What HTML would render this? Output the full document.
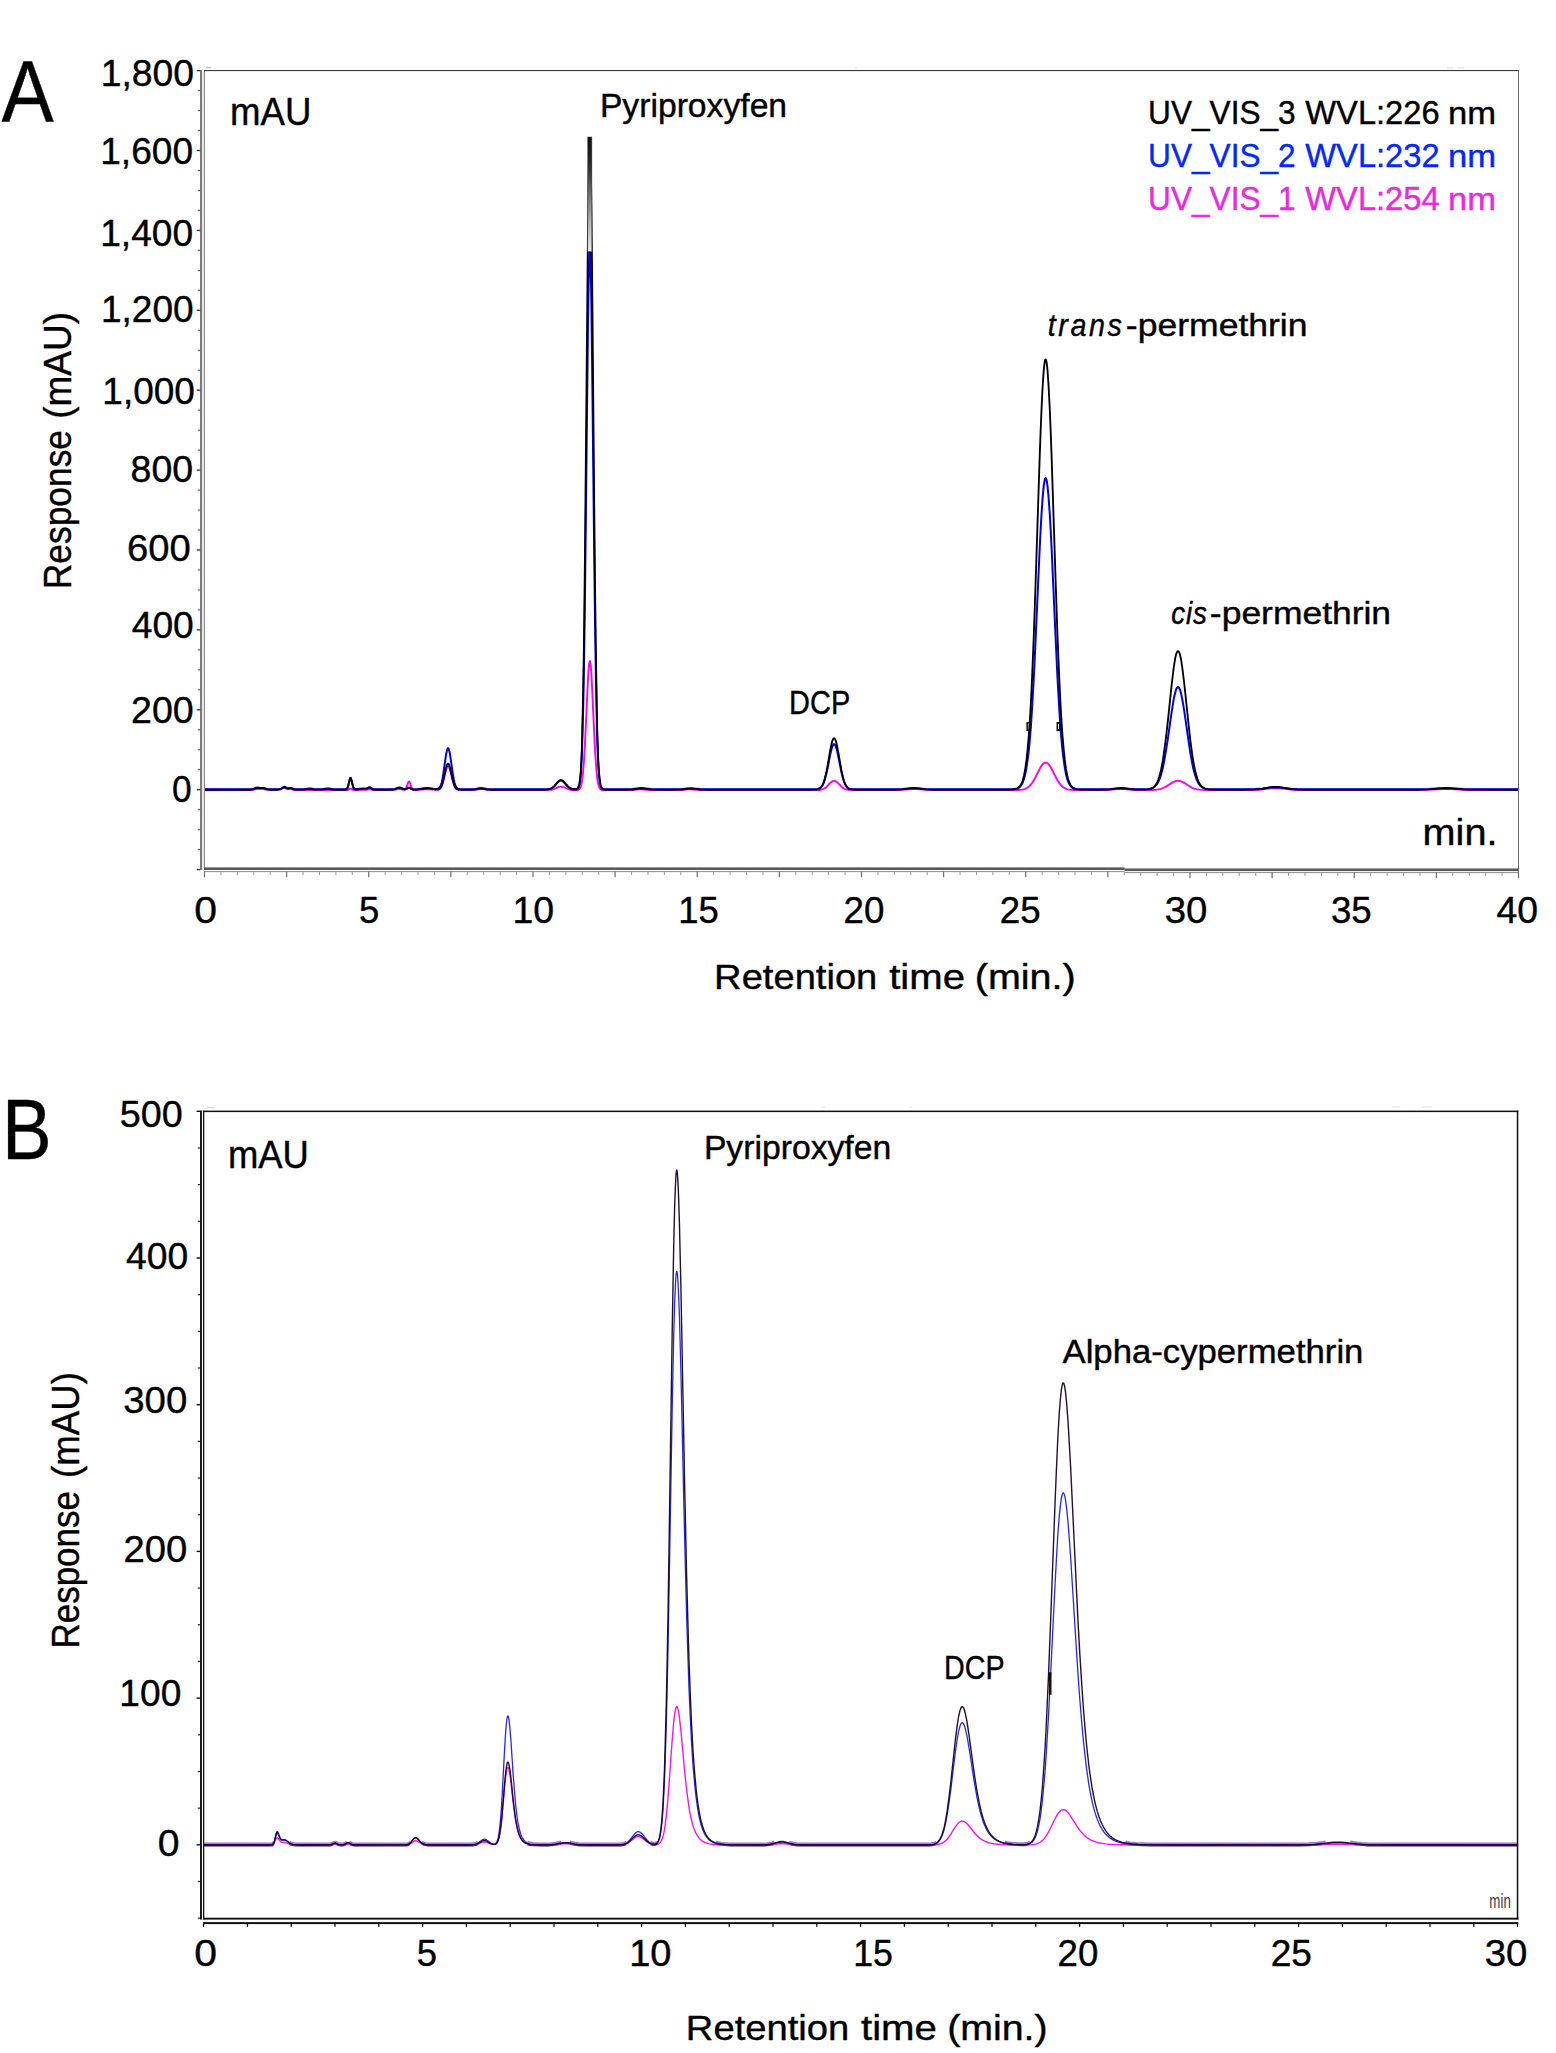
<!DOCTYPE html>
<html lang="en"><head><meta charset="utf-8"><title>HPLC chromatograms</title>
<style>html,body{margin:0;padding:0;background:#fff}svg{display:block}text{font-family:'Liberation Sans', sans-serif;fill:#000;stroke:#000;stroke-width:.4px}</style>
</head><body>
<svg width="1556" height="2053" viewBox="0 0 1556 2053">
<rect width="1556" height="2053" fill="#fff"/>
<g id="traces">
<path d="M204.8,790.2 250.5,790.1 252.8,789.9 256.0,789.0 257.5,788.9 260.2,789.1 263.2,789.1 267.8,789.9 270.8,790.0 274.2,789.8 279.2,789.0 280.8,788.7 283.0,788.0 284.0,787.9 285.0,788.0 286.8,788.8 287.8,789.0 290.8,789.1 294.2,790.0 296.8,790.1 303.8,790.1 309.5,789.8 316.8,790.1 322.2,790.1 327.8,789.8 334.0,790.1 346.0,790.1 347.0,790.0 347.8,789.9 349.8,788.7 350.5,788.6 351.2,788.7 353.2,789.8 354.0,790.0 355.0,790.1 362.5,789.8 366.2,789.7 369.5,789.2 370.5,789.3 372.8,790.0 374.2,790.1 392.0,790.1 394.5,789.9 398.0,789.1 399.2,789.0 400.5,789.1 403.2,789.7 404.2,789.8 404.8,789.7 405.2,789.4 406.0,788.4 406.8,786.7 408.2,782.2 408.8,781.5 409.0,781.4 409.2,781.5 409.8,782.2 411.2,786.7 412.0,788.5 412.8,789.5 413.5,789.9 414.8,790.1 417.2,790.0 424.8,789.4 427.2,789.4 429.8,789.4 435.2,789.9 437.5,789.9 438.2,789.8 439.0,789.5 440.0,788.8 441.0,787.6 441.8,786.1 442.5,784.1 443.2,781.6 446.2,769.4 446.8,767.9 447.2,766.9 447.8,766.3 448.0,766.2 448.2,766.2 448.8,766.7 449.2,767.7 449.8,769.1 450.5,771.8 452.8,781.2 453.8,784.5 454.5,786.4 455.2,787.7 456.2,788.9 457.2,789.6 458.5,789.9 461.5,790.1 473.0,790.1 475.5,789.9 479.2,789.1 481.0,789.0 482.8,789.1 487.2,789.9 490.5,790.1 547.5,790.1 550.2,789.9 552.5,789.5 554.5,788.8 558.8,786.9 560.0,786.6 561.0,786.6 562.0,786.7 563.2,787.0 567.8,789.0 569.0,789.4 570.5,789.7 572.5,790.0 574.8,790.1 576.8,790.1 578.0,789.8 579.0,789.3 579.5,788.9 580.0,788.2 580.8,786.5 581.2,784.8 581.8,782.5 582.2,779.4 583.2,770.3 584.0,760.5 585.0,743.1 588.0,678.5 588.5,670.6 589.0,664.9 589.5,661.7 589.8,661.1 590.0,661.3 590.2,662.1 590.5,663.6 591.0,668.5 591.5,675.8 592.2,690.0 594.0,729.3 595.0,749.5 595.8,761.8 596.8,773.9 597.2,778.2 597.8,781.6 598.2,784.1 599.0,786.8 599.8,788.3 600.5,789.2 601.2,789.7 602.5,790.0 605.8,790.1 629.0,790.1 632.8,790.0 639.0,789.4 641.5,789.4 644.0,789.5 649.8,790.0 653.2,790.1 676.5,790.1 681.8,790.0 688.2,789.4 690.8,789.4 693.2,789.5 699.8,790.0 705.2,790.1 811.0,790.1 817.5,790.1 819.5,790.0 821.2,789.7 822.8,789.2 824.2,788.5 825.2,787.9 826.5,786.9 830.2,783.0 831.5,781.9 832.8,781.1 834.0,780.8 834.5,780.9 835.2,781.1 836.0,781.4 836.8,782.0 838.0,783.1 841.5,786.7 842.8,787.8 844.0,788.6 845.2,789.2 846.8,789.6 848.2,789.9 850.2,790.1 856.5,790.1 897.2,790.1 902.5,789.9 910.8,789.1 914.0,789.0 917.2,789.1 926.0,789.9 932.5,790.1 1010.2,790.1 1019.0,790.0 1022.5,789.6 1024.0,789.2 1025.2,788.8 1026.5,788.2 1027.5,787.6 1028.8,786.7 1029.8,785.8 1031.8,783.4 1033.8,780.3 1035.5,777.1 1039.5,769.2 1041.5,765.8 1042.5,764.5 1043.5,763.5 1044.5,762.8 1045.5,762.6 1046.5,762.7 1047.5,763.3 1048.5,764.2 1049.8,765.8 1051.8,769.2 1055.8,777.1 1057.5,780.3 1059.5,783.4 1061.5,785.8 1062.5,786.7 1063.8,787.6 1064.8,788.2 1066.0,788.8 1067.2,789.2 1068.8,789.6 1072.2,790.0 1079.5,790.1 1104.8,790.1 1109.5,789.9 1117.8,789.1 1121.0,789.0 1124.5,789.1 1132.2,789.9 1136.5,790.1 1148.8,790.1 1152.5,790.0 1155.2,789.9 1157.2,789.6 1159.2,789.3 1161.0,788.8 1162.8,788.2 1164.2,787.5 1166.0,786.6 1171.8,782.9 1173.8,781.8 1175.0,781.3 1176.0,781.0 1177.0,780.8 1178.0,780.8 1179.0,780.8 1180.0,781.0 1181.0,781.3 1182.2,781.8 1184.2,782.9 1190.2,786.7 1192.2,787.8 1194.2,788.6 1196.5,789.2 1198.8,789.6 1201.5,789.9 1204.8,790.1 1240.2,790.1 1253.0,790.0 1259.5,789.7 1270.8,788.4 1275.5,788.2 1280.0,788.4 1288.5,789.4 1292.5,789.8 1297.0,790.0 1302.5,790.1 1419.5,790.1 1428.5,789.9 1441.2,789.1 1446.2,789.0 1451.2,789.1 1463.0,789.9 1469.8,790.1 1518.0,790.1" fill="none" stroke="#ff00f0" stroke-width="1.9" stroke-linejoin="round"/>
<path d="M204.8,789.2 250.5,789.2 252.8,789.0 253.8,788.7 256.0,787.8 256.8,787.6 257.5,787.5 260.2,787.9 263.5,788.0 267.2,788.9 269.0,789.2 271.5,789.2 278.2,789.2 279.8,789.1 280.8,788.8 281.5,788.4 283.2,787.2 283.8,787.0 284.2,786.8 285.0,787.0 287.0,788.1 287.8,788.3 288.5,788.3 290.2,788.0 291.0,788.1 294.0,789.0 296.0,789.2 303.8,789.2 309.5,788.5 310.8,788.5 313.8,789.0 315.2,789.2 320.8,789.2 323.0,789.1 326.5,788.5 327.8,788.5 329.0,788.5 332.2,789.1 334.0,789.2 345.2,789.2 346.0,789.1 346.5,788.9 347.0,788.5 347.5,787.7 348.2,785.6 349.8,779.4 350.2,778.2 350.5,778.1 350.8,778.2 351.2,779.3 352.8,785.5 353.5,787.6 353.8,788.1 354.2,788.7 354.8,789.0 355.2,789.1 357.2,789.1 362.5,788.5 366.2,788.4 367.2,788.2 368.8,787.5 369.5,787.4 370.0,787.4 370.5,787.6 372.0,788.5 373.0,789.0 374.0,789.2 375.2,789.2 389.8,789.2 392.8,789.2 394.8,788.9 398.0,787.8 399.2,787.7 400.5,787.8 403.2,788.7 404.8,789.0 405.5,789.0 406.2,788.8 408.2,787.8 409.0,787.6 409.8,787.8 412.0,788.9 413.5,789.2 415.8,789.2 418.2,789.0 424.8,788.2 427.0,788.1 429.5,788.2 435.2,788.9 437.2,788.9 438.0,788.7 438.8,788.3 439.2,787.9 439.8,787.4 440.2,786.6 440.8,785.5 441.8,782.3 442.5,778.9 443.2,774.6 446.2,753.7 446.8,751.1 447.2,749.3 447.8,748.3 448.0,748.1 448.2,748.2 448.8,749.0 449.2,750.7 449.8,753.1 450.5,757.8 452.8,773.8 453.8,779.5 454.5,782.7 455.2,785.1 455.8,786.2 456.2,787.1 457.2,788.3 457.8,788.6 458.5,788.9 459.8,789.1 461.5,789.2 472.8,789.2 475.5,789.0 479.2,788.2 481.0,788.1 482.8,788.2 487.2,789.0 490.5,789.2 542.0,789.2 547.5,789.1 549.0,788.9 550.2,788.7 551.5,788.2 552.5,787.6 553.5,786.9 554.5,785.9 557.5,782.6 558.8,781.4 560.0,780.6 561.0,780.5 562.0,780.7 563.2,781.5 564.2,782.5 567.8,786.3 569.0,787.4 570.5,788.2 571.5,788.6 572.8,788.9 575.2,789.1 576.2,789.0 577.0,788.8 577.5,788.5 578.0,788.0 578.5,787.2 579.0,785.9 579.5,783.9 580.0,781.0 580.8,774.1 581.2,767.0 581.8,757.3 582.2,744.5 583.2,706.6 584.0,665.7 585.0,593.3 588.0,324.1 588.5,291.2 589.0,267.3 589.5,254.1 589.8,251.7 590.0,252.2 590.2,255.6 590.5,261.8 591.0,282.4 591.5,312.6 592.2,371.8 594.0,535.7 595.0,620.0 595.8,671.1 596.8,721.5 597.2,739.5 597.8,753.6 598.2,764.2 599.0,775.1 599.8,781.6 600.5,785.3 601.2,787.3 601.8,788.1 602.5,788.7 603.0,789.0 603.8,789.1 605.5,789.2 628.2,789.2 632.5,789.0 639.0,788.2 641.5,788.1 644.0,788.2 650.8,789.1 657.0,789.2 679.0,789.2 682.2,789.1 688.0,788.6 690.5,788.5 693.0,788.5 700.0,789.1 706.0,789.2 811.2,789.2 815.2,789.2 817.5,788.9 818.5,788.7 819.5,788.3 820.5,787.6 821.2,786.9 822.0,786.0 822.8,784.8 823.5,783.3 824.2,781.4 825.2,778.2 826.5,773.2 827.8,767.3 830.2,754.6 831.5,749.2 832.2,746.7 832.8,745.5 833.5,744.4 834.0,744.1 834.5,744.3 834.8,744.5 835.2,745.2 836.0,747.0 836.8,749.6 838.0,755.1 841.5,772.6 842.8,777.7 844.0,781.7 845.2,784.5 846.0,785.8 846.8,786.8 847.5,787.5 848.2,788.1 849.2,788.6 850.2,788.9 852.2,789.1 855.5,789.2 896.2,789.2 902.2,789.0 910.8,788.2 914.2,788.1 917.5,788.2 925.8,789.0 932.0,789.2 1008.8,789.2 1012.8,789.1 1015.2,788.9 1017.2,788.4 1018.2,787.9 1019.0,787.5 1020.0,786.7 1021.0,785.5 1021.8,784.4 1022.5,783.0 1023.2,781.2 1024.0,779.0 1025.2,774.2 1026.5,767.7 1027.5,760.9 1028.8,750.3 1029.8,739.8 1030.8,727.3 1031.8,712.8 1033.8,678.0 1035.5,641.9 1039.5,552.5 1040.5,532.3 1041.5,514.4 1042.5,499.4 1043.5,488.1 1044.0,484.0 1044.5,480.9 1045.0,478.9 1045.2,478.4 1045.5,478.1 1045.8,478.1 1046.0,478.4 1046.5,479.8 1047.0,482.3 1047.5,485.9 1048.5,496.3 1049.8,514.4 1050.8,532.3 1051.8,552.6 1055.8,642.0 1057.5,678.0 1059.5,712.9 1060.5,727.3 1061.5,739.8 1062.5,750.3 1063.8,760.9 1064.8,767.7 1066.0,774.2 1067.2,779.0 1068.0,781.2 1068.8,783.0 1069.5,784.4 1070.2,785.5 1071.2,786.7 1072.2,787.5 1073.8,788.3 1075.2,788.7 1077.2,789.0 1080.2,789.2 1097.8,789.2 1105.8,789.2 1110.5,788.9 1118.0,788.2 1121.0,788.1 1124.2,788.2 1130.8,788.9 1134.0,789.1 1138.2,789.2 1143.8,789.2 1148.0,789.0 1149.5,788.8 1151.0,788.5 1152.2,788.1 1153.2,787.6 1154.2,787.0 1155.2,786.2 1156.2,785.1 1157.2,783.7 1158.2,781.9 1159.2,779.8 1160.2,777.1 1161.0,774.8 1162.8,768.0 1164.2,760.8 1166.0,750.7 1167.8,739.1 1171.8,710.9 1173.8,698.9 1175.0,693.2 1176.0,689.9 1176.5,688.7 1177.0,687.8 1177.5,687.3 1178.0,687.1 1178.5,687.3 1179.0,687.8 1179.5,688.7 1180.0,689.8 1181.0,693.1 1182.2,698.8 1184.2,710.7 1188.5,740.7 1190.2,752.1 1192.2,763.3 1193.2,768.0 1194.2,772.0 1195.2,775.5 1196.5,779.1 1197.5,781.4 1198.8,783.7 1200.0,785.3 1201.5,786.8 1203.0,787.7 1204.8,788.4 1206.2,788.8 1207.8,789.0 1212.2,789.2 1251.0,789.2 1255.2,789.1 1259.0,788.8 1262.8,788.5 1270.8,787.5 1275.5,787.3 1280.0,787.5 1288.5,788.5 1292.5,788.9 1297.0,789.1 1302.5,789.2 1419.5,789.2 1428.5,789.0 1441.2,788.2 1446.2,788.1 1451.2,788.2 1463.0,789.0 1469.8,789.2 1518.0,789.2" fill="none" stroke="#0000e8" stroke-width="2.0" stroke-linejoin="round"/>
<path d="M204.8,789.7 250.5,789.7 252.0,789.5 253.0,789.3 256.0,788.0 256.8,787.8 257.5,787.8 260.2,788.1 262.5,788.0 263.5,788.1 264.5,788.3 267.2,789.3 269.0,789.6 271.5,789.7 278.2,789.7 279.8,789.5 280.8,789.2 281.5,788.8 283.2,787.5 283.8,787.2 284.2,787.1 285.0,787.2 286.8,788.2 287.5,788.5 288.2,788.5 290.0,788.1 290.8,788.1 291.8,788.4 294.0,789.3 295.0,789.6 296.2,789.7 303.8,789.6 309.5,788.9 311.0,789.0 314.2,789.5 316.8,789.7 322.2,789.6 326.5,789.0 327.8,788.9 329.0,789.0 332.2,789.5 334.0,789.7 345.2,789.7 346.0,789.6 346.5,789.4 347.0,788.9 347.5,788.1 348.2,785.8 349.8,779.2 350.2,777.9 350.5,777.7 350.8,777.9 351.2,779.0 352.8,785.7 353.5,788.0 353.8,788.4 354.2,789.1 354.8,789.4 355.2,789.5 357.2,789.5 362.5,788.8 366.2,788.7 367.2,788.4 368.8,787.6 369.5,787.4 370.0,787.4 370.5,787.7 372.0,788.8 373.0,789.4 374.0,789.6 375.2,789.7 389.8,789.7 392.8,789.6 394.8,789.3 398.0,787.9 399.2,787.7 400.5,787.9 403.2,789.0 404.8,789.4 405.5,789.4 406.2,789.1 408.2,787.9 409.0,787.7 409.8,787.9 411.2,788.9 412.0,789.3 412.8,789.5 413.5,789.6 415.5,789.6 418.2,789.4 424.8,788.5 427.0,788.3 429.5,788.4 435.2,789.3 437.5,789.4 438.2,789.2 439.0,789.0 440.0,788.2 441.0,786.9 441.8,785.3 442.5,783.2 443.2,780.5 446.2,767.2 446.8,765.6 447.2,764.5 447.8,763.8 448.0,763.7 448.2,763.8 448.8,764.3 449.2,765.4 449.8,766.9 450.5,769.8 452.8,780.0 453.8,783.6 454.5,785.6 455.2,787.1 456.2,788.4 457.2,789.1 458.5,789.5 459.8,789.6 461.5,789.7 473.0,789.6 475.5,789.4 479.2,788.7 481.0,788.5 482.8,788.6 487.2,789.5 490.5,789.7 542.2,789.7 547.5,789.6 549.0,789.4 550.2,789.1 551.5,788.5 552.5,787.9 553.5,787.1 554.5,786.1 557.5,782.4 558.8,781.1 560.0,780.3 561.0,780.1 562.0,780.4 563.0,781.0 564.2,782.3 566.8,785.4 568.0,786.8 569.2,787.8 570.8,788.7 571.8,789.1 573.0,789.4 574.2,789.5 575.5,789.5 576.2,789.4 577.0,789.2 577.5,788.8 578.0,788.2 578.5,787.2 579.0,785.6 579.5,783.2 580.0,779.7 580.8,771.3 581.2,762.7 581.8,751.0 582.2,735.4 583.2,689.5 584.0,639.8 585.0,552.1 588.0,225.7 588.5,185.8 589.0,156.9 589.5,140.8 589.8,137.9 590.0,138.5 590.2,142.7 590.5,150.2 591.0,175.2 591.5,211.8 592.2,283.6 594.0,482.3 595.0,584.5 595.8,646.5 596.8,707.5 597.2,729.4 597.8,746.4 598.2,759.3 599.0,772.5 599.8,780.5 600.5,785.0 601.2,787.4 601.8,788.3 602.5,789.1 603.0,789.3 603.8,789.6 605.5,789.7 627.8,789.7 632.5,789.5 639.0,788.6 641.5,788.5 644.0,788.7 649.8,789.4 653.0,789.6 675.5,789.7 681.5,789.5 688.2,788.6 690.8,788.5 693.2,788.7 700.0,789.5 705.8,789.7 811.0,789.7 815.2,789.6 817.5,789.3 818.5,789.1 819.5,788.6 820.5,787.9 821.2,787.1 822.0,786.0 822.8,784.6 823.5,782.9 824.2,780.7 825.2,777.1 826.5,771.4 827.8,764.7 830.2,750.1 831.5,744.0 832.2,741.2 832.8,739.8 833.5,738.5 834.0,738.2 834.5,738.3 834.8,738.6 835.2,739.4 836.0,741.5 836.8,744.4 838.0,750.7 841.5,770.7 842.8,776.5 844.0,781.0 845.2,784.3 846.0,785.8 846.8,786.9 847.5,787.7 848.2,788.3 849.2,788.9 850.2,789.2 852.2,789.6 855.8,789.7 896.5,789.7 902.2,789.4 910.8,788.3 914.2,788.1 917.5,788.3 925.8,789.4 932.0,789.7 1008.8,789.7 1012.8,789.5 1015.2,789.2 1016.2,788.9 1017.2,788.5 1018.2,787.9 1019.0,787.3 1020.0,786.1 1021.0,784.5 1021.8,783.0 1022.5,781.0 1023.2,778.5 1024.0,775.5 1025.2,768.9 1026.5,759.9 1027.5,750.5 1028.8,735.8 1029.8,721.3 1030.8,704.1 1031.8,684.1 1033.8,635.9 1035.5,586.0 1039.5,462.4 1040.5,434.5 1041.5,409.7 1042.5,389.0 1043.5,373.4 1044.0,367.6 1044.5,363.4 1045.0,360.7 1045.2,359.9 1045.5,359.5 1045.8,359.5 1046.0,359.9 1046.5,361.8 1047.0,365.3 1047.5,370.3 1048.5,384.6 1049.8,409.7 1050.8,434.5 1051.8,462.5 1055.8,586.1 1057.5,635.9 1059.5,684.1 1060.5,704.1 1061.5,721.3 1062.5,735.8 1063.8,750.6 1064.8,759.9 1066.0,768.9 1067.2,775.5 1068.0,778.6 1068.8,781.0 1069.5,783.0 1070.2,784.5 1071.2,786.1 1072.2,787.3 1073.8,788.4 1075.2,789.0 1077.2,789.4 1080.2,789.6 1097.8,789.7 1105.8,789.6 1110.5,789.3 1118.0,788.3 1121.0,788.1 1124.2,788.3 1130.8,789.2 1134.0,789.5 1138.5,789.7 1143.8,789.6 1148.0,789.4 1149.5,789.1 1151.0,788.7 1152.2,788.1 1153.2,787.5 1154.2,786.6 1155.2,785.5 1156.2,784.0 1157.2,782.1 1158.2,779.8 1159.2,776.8 1160.2,773.2 1161.0,770.0 1162.8,760.9 1164.2,751.1 1166.0,737.3 1167.8,721.6 1171.8,683.3 1173.8,667.1 1175.0,659.3 1176.0,654.8 1176.5,653.2 1177.0,652.0 1177.5,651.3 1178.0,651.1 1178.5,651.3 1179.0,652.0 1179.5,653.1 1180.0,654.7 1181.0,659.2 1182.2,666.9 1184.2,683.1 1188.5,723.7 1190.2,739.3 1192.2,754.4 1193.2,760.8 1194.2,766.3 1195.2,771.1 1196.5,775.9 1197.5,779.0 1198.8,782.1 1200.0,784.4 1201.5,786.4 1203.0,787.7 1204.8,788.6 1206.2,789.1 1207.8,789.3 1209.8,789.5 1212.2,789.6 1240.5,789.7 1251.0,789.6 1255.2,789.4 1259.0,789.1 1262.8,788.6 1270.8,787.2 1273.2,787.0 1275.5,786.9 1277.8,787.0 1280.0,787.2 1288.5,788.7 1292.5,789.2 1297.0,789.5 1302.5,789.7 1419.5,789.7 1428.5,789.4 1441.2,788.3 1446.2,788.1 1451.2,788.3 1463.0,789.3 1469.8,789.6 1479.2,789.7 1518.0,789.7" fill="none" stroke="#05000a" stroke-width="1.85" stroke-linejoin="round"/>
<defs><linearGradient id="gtop" x1="0" y1="0" x2="0" y2="1"><stop offset="0" stop-color="#0c0c0c"/><stop offset="0.25" stop-color="#2a2a2a"/><stop offset="0.6" stop-color="#8c8c8c"/><stop offset="1" stop-color="#ececec"/></linearGradient></defs>
<rect x="587.75" y="137.0" width="4.1" height="114.5" fill="url(#gtop)" stroke="#4a4a4a" stroke-width="0.6"/>
<path d="M204.2,1843.5 270.6,1843.5 271.6,1843.4 272.4,1843.2 273.1,1842.6 273.6,1841.7" fill="none" stroke="#a878cf" stroke-width="2"/>
<path d="M204.2,1845.6 270.6,1845.5 271.6,1845.5 272.4,1845.3 273.1,1844.6 273.6,1843.8" fill="none" stroke="#3e1452" stroke-width="2"/>
<path d="M289.6,1841.7 290.9,1842.4 292.4,1842.9 294.1,1843.2 296.1,1843.4 301.9,1843.5 325.9,1843.5 328.9,1843.5 330.4,1843.3 331.6,1843.0 334.1,1841.9 335.1,1841.7 336.1,1842.0 338.1,1842.9 339.4,1843.3 340.9,1843.4 342.4,1843.4 343.4,1843.3 344.4,1843.0 346.6,1841.7" fill="none" stroke="#a878cf" stroke-width="2"/>
<path d="M289.6,1843.7 290.9,1844.5 292.4,1845.0 294.1,1845.3 296.1,1845.4 301.9,1845.5 325.9,1845.6 328.9,1845.5 330.4,1845.4 331.6,1845.0 334.1,1843.9 335.1,1843.8 336.1,1844.0 338.1,1844.9 339.4,1845.3 340.9,1845.5 342.4,1845.5 343.4,1845.3 344.4,1845.0 346.6,1843.7" fill="none" stroke="#3e1452" stroke-width="2"/>
<path d="M349.6,1841.6 351.4,1842.7 352.6,1843.2 354.1,1843.4 356.4,1843.5 404.6,1843.5 406.4,1843.4 407.6,1843.1 408.9,1842.6 409.9,1841.8" fill="none" stroke="#a878cf" stroke-width="2"/>
<path d="M349.6,1843.7 351.4,1844.8 352.6,1845.3 354.1,1845.5 356.4,1845.6 404.6,1845.5 406.4,1845.4 407.6,1845.2 408.9,1844.6 409.9,1843.9" fill="none" stroke="#3e1452" stroke-width="2"/>
<path d="M421.9,1841.6 422.9,1842.3 423.9,1842.7 426.1,1843.2 429.4,1843.4 436.1,1843.5 471.1,1843.4 473.1,1843.3 474.9,1842.9 476.4,1842.4 477.6,1841.7" fill="none" stroke="#a878cf" stroke-width="2"/>
<path d="M421.9,1843.7 423.4,1844.5 425.4,1845.1 427.9,1845.4 432.1,1845.5 471.1,1845.5 473.1,1845.4 474.9,1845.1 476.4,1844.7 477.6,1844.2" fill="none" stroke="#3e1452" stroke-width="2"/>
<path d="M527.6,1841.7 528.9,1842.2 530.1,1842.6 533.4,1843.1 537.9,1843.4 544.6,1843.5 549.4,1843.4 553.1,1843.1 556.1,1842.6 561.1,1841.6" fill="none" stroke="#a878cf" stroke-width="2"/>
<path d="M527.6,1844.4 530.4,1845.0 534.1,1845.3 539.9,1845.5 547.4,1845.5 550.9,1845.3 553.9,1845.1 556.4,1844.6 561.1,1843.7" fill="none" stroke="#3e1452" stroke-width="2"/>
<path d="M569.9,1841.6 575.4,1842.8 579.1,1843.2 583.6,1843.5 591.6,1843.5 614.1,1843.5 619.1,1843.4 621.4,1843.2 623.1,1842.9 624.6,1842.4 626.1,1841.7" fill="none" stroke="#a878cf" stroke-width="2"/>
<path d="M569.9,1843.7 574.9,1844.7 577.9,1845.2 581.4,1845.4 586.1,1845.5 618.9,1845.5 621.1,1845.4 623.1,1845.1 624.6,1844.7 626.1,1844.1" fill="none" stroke="#3e1452" stroke-width="2"/>
<path d="M650.6,1841.7 651.6,1842.2 652.6,1842.6 654.4,1842.8 655.1,1842.8 655.6,1842.6 656.4,1842.2 656.9,1841.8" fill="none" stroke="#a878cf" stroke-width="2"/>
<path d="M650.6,1844.2 652.6,1844.8 654.4,1844.9 655.6,1844.6 656.4,1844.2 656.9,1843.8" fill="none" stroke="#3e1452" stroke-width="2"/>
<path d="M716.1,1841.7 718.4,1842.2 720.9,1842.7 723.9,1843.0 727.4,1843.2 736.6,1843.4 755.6,1843.5 762.9,1843.4 767.1,1843.2 770.6,1842.6 774.1,1841.6" fill="none" stroke="#a878cf" stroke-width="2"/>
<path d="M716.1,1843.7 717.9,1844.2 719.9,1844.6 724.4,1845.1 730.4,1845.4 739.1,1845.5 758.6,1845.5 764.9,1845.4 767.4,1845.3 769.6,1845.0 771.9,1844.6 774.1,1844.1" fill="none" stroke="#3e1452" stroke-width="2"/>
<path d="M789.4,1841.6 793.1,1842.7 796.6,1843.2 800.9,1843.5 808.6,1843.5 926.6,1843.5 930.1,1843.4 932.6,1843.1 934.6,1842.6 936.4,1841.7" fill="none" stroke="#a878cf" stroke-width="2"/>
<path d="M789.4,1844.0 792.4,1844.8 795.1,1845.2 798.1,1845.4 802.1,1845.5 922.6,1845.6 928.6,1845.5 931.9,1845.2 934.4,1844.7 935.4,1844.3 936.4,1843.8" fill="none" stroke="#3e1452" stroke-width="2"/>
<path d="M1004.9,1841.7 1008.1,1842.3 1012.1,1842.7 1016.9,1843.1 1021.6,1843.2 1024.3,1843.1 1026.6,1842.8 1028.3,1842.4 1029.8,1841.7" fill="none" stroke="#a878cf" stroke-width="2"/>
<path d="M1004.9,1843.7 1008.1,1844.3 1012.1,1844.8 1016.9,1845.1 1021.6,1845.3 1024.3,1845.2 1026.6,1844.9 1028.3,1844.4 1029.8,1843.7" fill="none" stroke="#3e1452" stroke-width="2"/>
<path d="M1125.6,1841.6 1130.3,1842.4 1136.1,1842.9 1143.1,1843.2 1152.6,1843.4 1177.8,1843.5 1281.3,1843.5 1299.6,1843.5 1308.8,1843.3 1316.6,1842.7 1325.6,1841.6" fill="none" stroke="#a878cf" stroke-width="2"/>
<path d="M1125.6,1843.7 1130.3,1844.4 1136.1,1844.9 1143.1,1845.2 1152.6,1845.4 1177.8,1845.5 1281.3,1845.6 1299.6,1845.5 1308.8,1845.3 1316.6,1844.8 1325.6,1843.7" fill="none" stroke="#3e1452" stroke-width="2"/>
<path d="M1350.3,1841.6 1357.1,1842.5 1362.6,1843.0 1368.3,1843.3 1375.3,1843.5 1517.0,1843.5" fill="none" stroke="#a878cf" stroke-width="2"/>
<path d="M1350.3,1843.7 1357.1,1844.5 1362.6,1845.0 1368.3,1845.4 1375.3,1845.5 1517.0,1845.6" fill="none" stroke="#3e1452" stroke-width="2"/>
<path d="M204.2,1845.0 271.6,1845.0 272.4,1844.8 272.9,1844.6 273.4,1844.3 273.9,1843.7 274.6,1842.3 276.1,1838.8 276.6,1838.0 277.1,1837.6 277.4,1837.6 277.9,1838.0 280.1,1841.1 280.6,1841.6 281.4,1842.1 282.4,1842.3 284.4,1842.4 285.6,1842.6 286.6,1842.9 289.4,1844.0 291.4,1844.6 293.1,1844.8 295.6,1844.9 328.9,1845.0 331.1,1844.9 333.9,1844.4 335.1,1844.3 336.1,1844.4 339.1,1844.9 342.1,1845.0 344.1,1844.8 347.1,1844.2 348.1,1844.1 349.4,1844.2 352.1,1844.8 354.6,1845.0 405.4,1845.0 407.6,1844.8 409.4,1844.2 410.9,1843.4 413.9,1841.1 414.9,1840.7 415.6,1840.6 416.4,1840.7 417.4,1841.1 420.6,1843.2 422.4,1844.1 424.6,1844.7 427.4,1844.9 437.4,1845.0 467.9,1845.0 472.6,1844.9 474.9,1844.7 476.6,1844.4 478.4,1843.9 482.1,1842.4 483.4,1842.1 484.4,1842.1 485.4,1842.1 486.6,1842.4 490.4,1843.9 492.1,1844.4 493.6,1844.6 494.9,1844.4 495.9,1844.0 496.6,1843.4 497.4,1842.3 497.9,1841.3 498.9,1838.3 499.9,1833.6 500.9,1826.8 501.9,1817.9 504.6,1787.3 505.6,1777.5 506.4,1771.9 506.9,1769.4 507.4,1767.8 507.6,1767.4 507.9,1767.3 508.1,1767.4 508.4,1767.7 508.9,1769.1 509.4,1771.4 509.9,1774.3 510.9,1782.0 513.1,1802.0 514.4,1812.1 515.6,1820.5 516.4,1824.6 517.1,1828.1 517.9,1831.1 518.9,1834.3 519.6,1836.2 520.6,1838.2 521.6,1839.8 522.9,1841.2 524.1,1842.3 525.4,1843.0 527.6,1843.9 530.1,1844.4 533.4,1844.8 537.9,1844.9 546.1,1845.0 551.6,1844.8 555.4,1844.5 562.4,1843.7 565.4,1843.5 568.9,1843.7 576.9,1844.7 581.9,1844.9 613.4,1845.0 620.4,1844.9 622.4,1844.7 624.1,1844.4 625.6,1844.0 627.1,1843.4 628.4,1842.7 629.6,1841.9 633.9,1838.5 635.4,1837.4 636.9,1836.7 637.6,1836.6 638.4,1836.5 639.1,1836.6 639.9,1836.8 641.4,1837.5 642.9,1838.5 647.1,1842.0 648.6,1842.9 650.1,1843.7 652.1,1844.3 654.1,1844.6 656.1,1844.7 657.6,1844.4 658.9,1843.8 659.6,1843.3 660.1,1842.8 661.1,1841.3 662.1,1839.1 662.9,1836.8 663.6,1833.8 664.4,1830.0 665.1,1825.3 666.4,1815.1 667.9,1799.2 669.1,1783.2 672.1,1741.0 673.6,1723.2 674.6,1714.4 675.4,1709.8 676.1,1707.2 676.4,1706.8 676.6,1706.6 676.9,1706.5 677.1,1706.7 677.4,1707.2 678.1,1709.6 678.6,1712.1 679.4,1717.1 680.9,1730.5 684.6,1770.7 686.6,1789.6 687.9,1799.4 689.1,1807.8 690.4,1814.8 691.6,1820.5 693.1,1826.0 694.9,1830.9 695.9,1833.1 696.9,1834.9 697.9,1836.5 698.9,1837.9 699.9,1839.0 701.1,1840.1 702.4,1841.1 703.9,1842.0 705.4,1842.6 706.9,1843.2 708.6,1843.6 710.6,1844.0 714.4,1844.5 718.9,1844.8 724.9,1844.9 733.9,1845.0 759.1,1845.0 766.1,1844.9 770.6,1844.7 778.4,1843.7 781.6,1843.5 785.1,1843.7 791.1,1844.5 794.1,1844.8 801.4,1845.0 925.9,1845.0 932.1,1844.9 935.9,1844.7 938.6,1844.3 941.1,1843.6 943.4,1842.5 945.4,1840.9 947.1,1839.2 949.1,1836.6 950.9,1834.0 955.1,1827.2 957.4,1824.1 958.6,1822.8 959.9,1821.8 961.1,1821.3 962.1,1821.1 963.1,1821.2 964.4,1821.7 965.6,1822.5 966.9,1823.6 968.9,1825.8 975.1,1833.7 977.1,1835.8 979.1,1837.6 981.1,1839.2 983.1,1840.4 985.1,1841.4 987.4,1842.3 990.4,1843.1 993.9,1843.8 997.9,1844.2 1002.4,1844.6 1010.1,1844.8 1020.9,1845.0 1028.1,1844.9 1032.3,1844.7 1034.1,1844.5 1035.8,1844.1 1037.3,1843.7 1038.8,1843.0 1040.1,1842.3 1041.3,1841.5 1042.6,1840.4 1043.8,1839.1 1046.1,1836.1 1048.3,1832.4 1050.3,1828.5 1055.1,1818.7 1056.6,1815.9 1057.8,1813.9 1059.3,1811.9 1060.6,1810.7 1061.3,1810.2 1062.1,1809.9 1063.3,1809.7 1064.3,1809.8 1065.6,1810.4 1066.8,1811.4 1068.1,1812.7 1069.3,1814.3 1070.6,1816.1 1076.6,1825.7 1079.8,1830.4 1081.6,1832.5 1083.3,1834.4 1085.1,1836.1 1086.8,1837.5 1088.8,1838.9 1091.1,1840.1 1093.6,1841.2 1096.1,1842.1 1098.8,1842.8 1102.1,1843.4 1105.6,1843.9 1109.3,1844.3 1115.1,1844.6 1122.3,1844.8 1145.8,1845.0 1302.3,1845.0 1314.3,1844.9 1331.3,1844.4 1338.1,1844.3 1344.6,1844.4 1361.6,1844.9 1373.3,1845.0 1517.0,1845.0" fill="none" stroke="#ff10f0" stroke-width="1.4" stroke-opacity="1" stroke-linejoin="round"/>
<path d="M204.2,1845.0 269.4,1845.0 271.6,1844.9 272.4,1844.7 272.9,1844.4 273.4,1843.9 273.9,1842.9 274.6,1840.7 276.1,1835.0 276.6,1833.7 276.9,1833.4 277.1,1833.2 277.4,1833.2 277.9,1833.7 280.1,1838.6 280.6,1839.3 281.4,1839.9 282.1,1840.1 284.4,1839.9 285.4,1840.1 286.4,1840.6 289.4,1843.0 290.9,1843.9 291.9,1844.3 293.1,1844.6 296.1,1844.9 302.9,1845.0 328.9,1845.0 330.1,1844.9 331.1,1844.6 333.9,1843.5 334.6,1843.3 335.1,1843.2 336.1,1843.5 338.1,1844.4 339.1,1844.7 340.4,1844.9 342.1,1844.9 343.1,1844.8 344.1,1844.6 345.1,1844.1 347.1,1842.9 348.1,1842.7 348.6,1842.7 349.4,1843.0 351.1,1844.1 352.1,1844.5 353.1,1844.8 354.6,1845.0 405.4,1844.9 406.6,1844.8 407.6,1844.6 408.6,1844.2 409.4,1843.7 410.9,1842.3 413.1,1839.4 413.9,1838.6 414.9,1837.8 415.6,1837.7 416.4,1837.8 417.4,1838.5 420.6,1842.1 421.6,1843.0 422.4,1843.5 423.4,1844.0 424.6,1844.4 425.9,1844.7 427.4,1844.8 431.1,1845.0 440.1,1845.0 468.1,1845.0 472.6,1844.8 474.9,1844.4 476.6,1843.8 478.4,1842.7 482.1,1839.9 483.4,1839.3 484.4,1839.1 485.4,1839.3 486.6,1839.9 490.4,1842.7 492.1,1843.7 492.9,1844.0 493.6,1844.2 494.4,1844.1 494.9,1844.0 495.4,1843.8 495.9,1843.3 496.6,1842.3 497.4,1840.5 497.9,1838.9 498.4,1836.7 498.9,1833.8 499.9,1826.0 500.9,1814.7 501.9,1800.0 504.6,1749.1 505.6,1732.9 506.4,1723.7 506.9,1719.4 507.4,1716.8 507.6,1716.2 507.9,1715.9 508.1,1716.1 508.4,1716.7 508.9,1719.0 509.4,1722.7 509.9,1727.7 510.9,1740.3 513.1,1773.6 514.4,1790.4 515.6,1804.3 516.4,1811.2 517.1,1817.0 517.9,1821.9 518.9,1827.1 519.6,1830.3 520.6,1833.7 521.6,1836.3 522.9,1838.7 524.1,1840.5 525.4,1841.7 526.4,1842.5 527.6,1843.2 528.9,1843.7 530.1,1844.1 533.4,1844.6 537.9,1844.9 546.1,1845.0 551.6,1844.7 555.4,1844.3 562.4,1842.9 565.4,1842.7 567.1,1842.7 568.9,1843.0 574.4,1844.1 576.9,1844.5 579.1,1844.7 581.9,1844.9 588.1,1845.0 613.4,1845.0 617.6,1845.0 620.4,1844.8 622.4,1844.6 624.1,1844.1 625.6,1843.5 627.1,1842.5 628.4,1841.4 629.6,1840.1 633.9,1834.8 635.4,1833.1 636.1,1832.5 636.9,1832.0 637.6,1831.7 638.4,1831.7 639.1,1831.8 639.9,1832.1 640.6,1832.6 641.4,1833.2 642.9,1834.8 645.9,1838.7 647.4,1840.5 648.9,1842.0 650.4,1843.0 651.4,1843.6 652.4,1844.0 653.4,1844.2 654.4,1844.3 655.4,1844.2 656.1,1843.9 656.9,1843.5 657.4,1843.0 658.1,1841.9 658.6,1840.9 659.4,1838.8 659.9,1836.9 660.9,1831.5 661.9,1823.2 662.9,1811.0 663.6,1798.5 664.4,1782.7 665.1,1763.2 666.4,1721.3 667.9,1655.3 669.1,1588.9 672.1,1414.2 673.6,1340.4 674.6,1304.0 675.4,1285.2 675.9,1277.0 676.1,1274.3 676.4,1272.5 676.6,1271.5 676.9,1271.5 677.1,1272.3 677.4,1274.0 678.1,1284.1 678.6,1294.6 679.4,1315.3 680.9,1370.7 684.6,1537.1 686.6,1615.3 687.9,1656.2 689.1,1690.9 690.4,1719.7 691.6,1743.4 693.1,1766.2 693.9,1775.6 694.9,1786.5 695.9,1795.6 696.9,1803.3 697.9,1809.9 698.9,1815.4 699.9,1820.0 701.1,1824.8 702.4,1828.7 703.9,1832.4 705.4,1835.2 706.9,1837.4 708.6,1839.4 710.6,1841.0 712.4,1842.0 714.4,1842.9 716.4,1843.5 718.9,1844.0 721.6,1844.4 725.1,1844.7 734.4,1844.9 758.9,1845.0 763.1,1844.9 766.1,1844.8 768.4,1844.5 770.6,1844.1 772.9,1843.5 778.4,1841.8 780.1,1841.5 781.6,1841.3 783.4,1841.4 785.1,1841.8 791.1,1843.7 794.1,1844.4 797.4,1844.8 801.9,1845.0 926.1,1845.0 929.6,1844.9 932.1,1844.7 934.1,1844.3 935.9,1843.7 937.4,1842.8 938.6,1841.6 939.9,1840.0 941.1,1837.8 942.4,1834.9 943.4,1832.0 944.4,1828.5 945.4,1824.2 947.1,1815.2 949.1,1802.2 950.9,1788.9 955.1,1754.0 956.4,1744.7 957.4,1738.2 958.6,1731.4 959.9,1726.4 960.6,1724.4 961.1,1723.5 961.6,1722.9 962.1,1722.7 962.6,1722.8 963.1,1723.2 963.6,1723.9 964.4,1725.6 965.6,1729.8 966.9,1735.5 968.9,1746.9 973.1,1774.6 975.1,1786.9 977.1,1797.9 979.1,1807.3 981.1,1815.1 983.1,1821.4 984.1,1824.1 985.4,1827.0 986.4,1829.1 987.6,1831.3 989.1,1833.6 990.9,1835.8 992.6,1837.6 994.4,1839.0 996.4,1840.3 998.6,1841.5 1000.9,1842.3 1003.6,1843.1 1007.6,1843.8 1012.6,1844.4 1018.9,1844.7 1024.1,1844.7 1026.8,1844.5 1029.1,1843.9 1030.8,1843.0 1032.3,1841.9 1033.3,1840.7 1034.1,1839.6 1035.1,1837.8 1035.8,1836.1 1036.6,1834.0 1037.3,1831.6 1038.8,1825.3 1040.1,1818.4 1041.3,1809.7 1042.6,1799.0 1043.8,1786.0 1045.1,1770.6 1046.1,1756.5 1048.3,1719.4 1050.3,1681.0 1055.1,1583.3 1056.6,1555.5 1057.8,1535.3 1059.3,1515.6 1060.6,1503.6 1061.3,1498.5 1062.1,1495.0 1062.6,1493.6 1062.8,1493.2 1063.1,1493.0 1063.3,1492.9 1063.6,1493.1 1063.8,1493.4 1064.3,1494.5 1064.8,1496.3 1065.6,1500.3 1066.8,1510.0 1068.1,1523.1 1069.3,1538.9 1070.6,1556.8 1076.6,1652.5 1078.3,1678.6 1079.8,1699.2 1081.6,1720.9 1083.3,1739.9 1085.1,1756.4 1086.8,1770.5 1088.8,1784.1 1089.8,1789.9 1091.1,1796.5 1092.3,1802.3 1093.6,1807.4 1094.8,1811.9 1096.1,1815.9 1097.3,1819.4 1098.8,1823.0 1100.3,1826.2 1102.1,1829.3 1103.8,1831.8 1105.6,1834.0 1107.3,1835.8 1109.3,1837.5 1112.1,1839.4 1115.1,1840.8 1118.6,1842.1 1122.3,1843.0 1126.6,1843.7 1131.8,1844.3 1138.1,1844.6 1145.8,1844.8 1176.1,1845.0 1301.8,1845.0 1308.6,1844.8 1314.3,1844.6 1319.6,1844.2 1331.3,1843.1 1334.8,1842.9 1338.1,1842.8 1341.3,1842.9 1344.6,1843.1 1356.3,1844.2 1361.6,1844.6 1367.1,1844.8 1373.3,1844.9 1517.0,1845.0" fill="none" stroke="#1010ee" stroke-width="1.3" stroke-opacity="0.9" stroke-linejoin="round"/>
<path d="M204.2,1845.0 269.4,1845.0 271.6,1844.9 272.4,1844.7 272.9,1844.4 273.4,1843.7 273.9,1842.7 274.6,1840.2 276.1,1833.8 276.6,1832.3 276.9,1831.9 277.1,1831.7 277.4,1831.7 277.9,1832.3 280.1,1837.9 280.6,1838.8 281.4,1839.5 281.9,1839.8 282.4,1839.9 284.4,1839.8 285.4,1840.1 286.6,1840.8 289.4,1843.0 290.9,1843.9 292.9,1844.5 295.6,1844.9 302.1,1845.0 328.9,1845.0 330.1,1844.9 331.1,1844.6 333.9,1843.5 334.6,1843.3 335.1,1843.2 336.1,1843.5 338.1,1844.4 339.1,1844.7 340.4,1844.9 342.1,1844.9 343.1,1844.8 344.1,1844.6 345.1,1844.1 347.1,1842.9 348.1,1842.7 348.6,1842.7 349.4,1843.0 351.1,1844.1 352.1,1844.5 353.1,1844.8 354.6,1845.0 405.4,1844.9 406.6,1844.8 407.6,1844.6 408.6,1844.2 409.4,1843.7 410.9,1842.3 413.1,1839.4 413.9,1838.6 414.9,1837.8 415.6,1837.7 416.4,1837.8 417.4,1838.5 420.6,1842.1 421.6,1843.0 422.4,1843.5 423.4,1844.0 424.4,1844.3 425.6,1844.6 427.1,1844.8 430.1,1845.0 435.9,1845.0 467.9,1845.0 472.6,1844.9 474.9,1844.6 476.6,1844.1 478.4,1843.3 482.1,1841.2 483.4,1840.7 484.4,1840.6 485.4,1840.7 486.6,1841.1 490.4,1843.3 492.1,1844.1 493.1,1844.3 493.9,1844.4 495.1,1844.3 495.9,1843.9 496.6,1843.3 497.4,1842.1 497.9,1841.1 498.6,1838.8 499.1,1836.8 500.1,1831.2 500.9,1825.6 501.9,1816.1 504.6,1783.5 505.6,1773.0 506.4,1767.1 506.9,1764.4 507.4,1762.7 507.6,1762.3 507.9,1762.1 508.1,1762.2 508.4,1762.6 508.9,1764.1 509.4,1766.5 509.9,1769.7 510.9,1777.8 513.1,1799.2 514.4,1810.0 515.6,1818.9 516.4,1823.3 517.1,1827.0 517.9,1830.2 518.9,1833.5 519.6,1835.6 520.6,1837.7 521.6,1839.4 522.9,1841.0 524.1,1842.1 525.4,1842.9 526.4,1843.4 527.6,1843.8 530.1,1844.4 533.4,1844.7 537.9,1844.9 546.4,1845.0 551.6,1844.7 555.4,1844.3 562.4,1842.9 565.4,1842.7 567.1,1842.7 568.9,1843.0 574.4,1844.1 576.9,1844.5 579.1,1844.7 581.9,1844.9 588.1,1845.0 613.1,1845.0 617.9,1845.0 620.6,1844.8 622.6,1844.6 624.1,1844.3 625.6,1843.8 627.1,1843.1 628.4,1842.3 629.6,1841.3 633.9,1837.1 635.4,1835.9 636.9,1835.0 637.6,1834.8 638.4,1834.7 639.1,1834.8 639.9,1835.1 641.4,1835.9 642.9,1837.2 645.9,1840.2 647.4,1841.5 649.1,1842.8 650.9,1843.7 652.9,1844.3 653.9,1844.4 654.9,1844.3 656.1,1843.8 656.9,1843.3 657.4,1842.7 658.1,1841.4 658.6,1840.2 659.4,1837.7 659.9,1835.5 660.9,1829.1 661.9,1819.3 662.9,1804.9 663.6,1790.3 664.4,1771.8 665.1,1748.8 666.4,1699.5 667.9,1621.9 669.1,1543.7 672.1,1338.1 673.6,1251.3 674.6,1208.5 675.4,1186.4 675.9,1176.8 676.1,1173.6 676.4,1171.4 676.6,1170.3 676.9,1170.3 677.1,1171.3 677.4,1173.3 677.6,1176.3 678.1,1185.1 678.6,1197.4 679.4,1221.9 680.9,1287.0 684.6,1482.8 686.6,1574.8 687.9,1622.9 689.1,1663.7 690.4,1697.6 691.6,1725.5 693.1,1752.3 693.9,1763.4 694.9,1776.1 695.9,1786.9 696.9,1796.0 697.9,1803.7 698.9,1810.1 699.9,1815.6 701.1,1821.2 702.4,1825.8 703.9,1830.1 705.4,1833.5 706.9,1836.1 708.6,1838.4 710.6,1840.3 712.4,1841.5 714.4,1842.5 716.4,1843.2 718.9,1843.9 721.6,1844.3 725.1,1844.6 729.1,1844.8 734.4,1844.9 758.6,1845.0 766.1,1844.8 768.4,1844.6 770.6,1844.3 772.9,1843.8 778.4,1842.4 780.1,1842.2 781.6,1842.1 783.1,1842.1 784.9,1842.4 791.4,1844.0 794.4,1844.5 797.9,1844.9 802.6,1845.0 926.1,1845.0 929.6,1844.9 932.1,1844.7 934.1,1844.2 935.9,1843.5 937.4,1842.5 938.6,1841.2 939.9,1839.4 941.1,1836.9 942.4,1833.6 943.4,1830.3 944.4,1826.3 945.4,1821.5 947.1,1811.3 949.1,1796.6 950.9,1781.6 955.1,1742.1 956.4,1731.6 957.4,1724.2 958.6,1716.5 959.9,1710.9 960.6,1708.6 961.1,1707.6 961.6,1707.0 962.1,1706.7 962.6,1706.8 963.1,1707.3 963.6,1708.1 964.4,1710.0 965.6,1714.8 966.9,1721.2 968.9,1734.1 973.1,1765.4 975.1,1779.3 977.1,1791.7 979.1,1802.4 981.1,1811.2 983.1,1818.3 984.1,1821.3 985.4,1824.7 986.4,1827.0 987.6,1829.5 989.1,1832.1 990.9,1834.6 992.6,1836.6 994.6,1838.5 996.6,1839.9 998.9,1841.1 1001.4,1842.2 1004.1,1843.0 1008.4,1843.8 1013.4,1844.4 1019.9,1844.7 1024.6,1844.6 1027.1,1844.2 1029.1,1843.6 1030.1,1843.0 1030.8,1842.4 1031.6,1841.7 1032.3,1840.9 1033.3,1839.4 1034.1,1837.9 1035.1,1835.5 1035.8,1833.3 1036.6,1830.6 1037.3,1827.4 1038.8,1819.2 1040.1,1810.1 1041.3,1798.7 1042.6,1784.6 1043.8,1767.5 1045.1,1747.3 1046.1,1728.8 1048.3,1680.1 1050.3,1629.8 1055.1,1501.5 1056.6,1465.1 1057.8,1438.5 1059.3,1412.6 1060.6,1396.9 1061.3,1390.2 1062.1,1385.6 1062.6,1383.8 1062.8,1383.3 1063.1,1383.0 1063.3,1382.9 1063.6,1383.1 1063.8,1383.5 1064.3,1385.0 1064.8,1387.4 1065.6,1392.6 1066.8,1405.3 1068.1,1422.5 1069.3,1443.2 1070.6,1466.7 1076.6,1592.4 1078.3,1626.6 1079.8,1653.6 1081.6,1682.1 1083.3,1707.0 1085.1,1728.7 1086.8,1747.2 1088.8,1765.0 1089.8,1772.7 1091.1,1781.3 1092.3,1789.0 1093.6,1795.7 1094.8,1801.6 1096.1,1806.8 1097.3,1811.4 1098.8,1816.2 1100.3,1820.3 1102.1,1824.3 1103.8,1827.7 1105.6,1830.6 1107.3,1832.9 1109.3,1835.2 1110.6,1836.4 1112.1,1837.6 1113.6,1838.6 1115.1,1839.6 1116.8,1840.4 1118.6,1841.2 1122.3,1842.4 1126.6,1843.3 1131.8,1844.0 1138.1,1844.5 1145.8,1844.8 1157.3,1844.9 1176.1,1845.0 1301.8,1844.9 1308.6,1844.8 1314.3,1844.4 1319.6,1843.9 1331.3,1842.4 1334.8,1842.2 1338.1,1842.1 1341.3,1842.2 1344.6,1842.4 1356.3,1843.9 1361.6,1844.4 1367.1,1844.8 1373.3,1844.9 1388.3,1845.0 1517.0,1845.0" fill="none" stroke="#16061c" stroke-width="1.4" stroke-opacity="0.95" stroke-linejoin="round"/>
</g>
<g id="axes" shape-rendering="auto">
<rect x="200.00" y="70.00" width="2.30" height="800.00" fill="#7c7c7c"/>
<rect x="202.30" y="70.60" width="1.60" height="797.50" fill="#eeeeee"/>
<rect x="203.90" y="70.60" width="1.10" height="797.50" fill="#8c8c8c"/>
<rect x="204.00" y="70.00" width="1315.00" height="1.10" fill="#3a3a3a"/>
<rect x="1518.00" y="70.00" width="1.00" height="802.50" fill="#6a6a6a"/>
<rect x="204.00" y="867.40" width="920.60" height="2.60" fill="#585858"/>
<rect x="1124.60" y="868.50" width="394.40" height="2.60" fill="#585858"/>
<rect x="204.00" y="871.10" width="920.60" height="1.00" fill="#8a8a8a"/>
<rect x="1124.60" y="872.10" width="394.40" height="1.00" fill="#8a8a8a"/>
<rect x="203.90" y="871.60" width="1.20" height="5.60" fill="#6e6e6e"/>
<rect x="220.43" y="871.60" width="1.00" height="3.40" fill="#9a9a9a"/>
<rect x="236.85" y="871.60" width="1.00" height="3.40" fill="#9a9a9a"/>
<rect x="253.28" y="871.60" width="1.00" height="3.40" fill="#9a9a9a"/>
<rect x="269.70" y="871.60" width="1.00" height="3.40" fill="#9a9a9a"/>
<rect x="286.02" y="871.60" width="1.20" height="5.60" fill="#6e6e6e"/>
<rect x="302.55" y="871.60" width="1.00" height="3.40" fill="#9a9a9a"/>
<rect x="318.98" y="871.60" width="1.00" height="3.40" fill="#9a9a9a"/>
<rect x="335.40" y="871.60" width="1.00" height="3.40" fill="#9a9a9a"/>
<rect x="351.83" y="871.60" width="1.00" height="3.40" fill="#9a9a9a"/>
<rect x="368.15" y="871.60" width="1.20" height="5.60" fill="#6e6e6e"/>
<rect x="384.68" y="871.60" width="1.00" height="3.40" fill="#9a9a9a"/>
<rect x="401.10" y="871.60" width="1.00" height="3.40" fill="#9a9a9a"/>
<rect x="417.52" y="871.60" width="1.00" height="3.40" fill="#9a9a9a"/>
<rect x="433.95" y="871.60" width="1.00" height="3.40" fill="#9a9a9a"/>
<rect x="450.27" y="871.60" width="1.20" height="5.60" fill="#6e6e6e"/>
<rect x="466.80" y="871.60" width="1.00" height="3.40" fill="#9a9a9a"/>
<rect x="483.23" y="871.60" width="1.00" height="3.40" fill="#9a9a9a"/>
<rect x="499.65" y="871.60" width="1.00" height="3.40" fill="#9a9a9a"/>
<rect x="516.08" y="871.60" width="1.00" height="3.40" fill="#9a9a9a"/>
<rect x="532.40" y="871.60" width="1.20" height="5.60" fill="#6e6e6e"/>
<rect x="548.92" y="871.60" width="1.00" height="3.40" fill="#9a9a9a"/>
<rect x="565.35" y="871.60" width="1.00" height="3.40" fill="#9a9a9a"/>
<rect x="581.78" y="871.60" width="1.00" height="3.40" fill="#9a9a9a"/>
<rect x="598.20" y="871.60" width="1.00" height="3.40" fill="#9a9a9a"/>
<rect x="614.52" y="871.60" width="1.20" height="5.60" fill="#6e6e6e"/>
<rect x="631.05" y="871.60" width="1.00" height="3.40" fill="#9a9a9a"/>
<rect x="647.48" y="871.60" width="1.00" height="3.40" fill="#9a9a9a"/>
<rect x="663.90" y="871.60" width="1.00" height="3.40" fill="#9a9a9a"/>
<rect x="680.33" y="871.60" width="1.00" height="3.40" fill="#9a9a9a"/>
<rect x="696.65" y="871.60" width="1.20" height="5.60" fill="#6e6e6e"/>
<rect x="713.17" y="871.60" width="1.00" height="3.40" fill="#9a9a9a"/>
<rect x="729.60" y="871.60" width="1.00" height="3.40" fill="#9a9a9a"/>
<rect x="746.02" y="871.60" width="1.00" height="3.40" fill="#9a9a9a"/>
<rect x="762.45" y="871.60" width="1.00" height="3.40" fill="#9a9a9a"/>
<rect x="778.77" y="871.60" width="1.20" height="5.60" fill="#6e6e6e"/>
<rect x="795.30" y="871.60" width="1.00" height="3.40" fill="#9a9a9a"/>
<rect x="811.73" y="871.60" width="1.00" height="3.40" fill="#9a9a9a"/>
<rect x="828.15" y="871.60" width="1.00" height="3.40" fill="#9a9a9a"/>
<rect x="844.58" y="871.60" width="1.00" height="3.40" fill="#9a9a9a"/>
<rect x="860.90" y="871.60" width="1.20" height="5.60" fill="#6e6e6e"/>
<rect x="877.43" y="871.60" width="1.00" height="3.40" fill="#9a9a9a"/>
<rect x="893.85" y="871.60" width="1.00" height="3.40" fill="#9a9a9a"/>
<rect x="910.27" y="871.60" width="1.00" height="3.40" fill="#9a9a9a"/>
<rect x="926.70" y="871.60" width="1.00" height="3.40" fill="#9a9a9a"/>
<rect x="943.02" y="871.60" width="1.20" height="5.60" fill="#6e6e6e"/>
<rect x="959.55" y="871.60" width="1.00" height="3.40" fill="#9a9a9a"/>
<rect x="975.98" y="871.60" width="1.00" height="3.40" fill="#9a9a9a"/>
<rect x="992.40" y="871.60" width="1.00" height="3.40" fill="#9a9a9a"/>
<rect x="1008.83" y="871.60" width="1.00" height="3.40" fill="#9a9a9a"/>
<rect x="1025.15" y="871.60" width="1.20" height="5.60" fill="#6e6e6e"/>
<rect x="1041.68" y="871.60" width="1.00" height="3.40" fill="#9a9a9a"/>
<rect x="1058.10" y="871.60" width="1.00" height="3.40" fill="#9a9a9a"/>
<rect x="1074.53" y="871.60" width="1.00" height="3.40" fill="#9a9a9a"/>
<rect x="1090.95" y="871.60" width="1.00" height="3.40" fill="#9a9a9a"/>
<rect x="1107.28" y="871.60" width="1.20" height="5.60" fill="#6e6e6e"/>
<rect x="1123.80" y="871.60" width="1.00" height="3.40" fill="#9a9a9a"/>
<rect x="1140.22" y="872.60" width="1.00" height="3.40" fill="#9a9a9a"/>
<rect x="1156.65" y="872.60" width="1.00" height="3.40" fill="#9a9a9a"/>
<rect x="1173.08" y="872.60" width="1.00" height="3.40" fill="#9a9a9a"/>
<rect x="1189.40" y="872.60" width="1.20" height="5.60" fill="#6e6e6e"/>
<rect x="1205.93" y="872.60" width="1.00" height="3.40" fill="#9a9a9a"/>
<rect x="1222.35" y="872.60" width="1.00" height="3.40" fill="#9a9a9a"/>
<rect x="1238.78" y="872.60" width="1.00" height="3.40" fill="#9a9a9a"/>
<rect x="1255.20" y="872.60" width="1.00" height="3.40" fill="#9a9a9a"/>
<rect x="1271.53" y="872.60" width="1.20" height="5.60" fill="#6e6e6e"/>
<rect x="1288.05" y="872.60" width="1.00" height="3.40" fill="#9a9a9a"/>
<rect x="1304.48" y="872.60" width="1.00" height="3.40" fill="#9a9a9a"/>
<rect x="1320.90" y="872.60" width="1.00" height="3.40" fill="#9a9a9a"/>
<rect x="1337.33" y="872.60" width="1.00" height="3.40" fill="#9a9a9a"/>
<rect x="1353.65" y="872.60" width="1.20" height="5.60" fill="#6e6e6e"/>
<rect x="1370.17" y="872.60" width="1.00" height="3.40" fill="#9a9a9a"/>
<rect x="1386.60" y="872.60" width="1.00" height="3.40" fill="#9a9a9a"/>
<rect x="1403.03" y="872.60" width="1.00" height="3.40" fill="#9a9a9a"/>
<rect x="1419.45" y="872.60" width="1.00" height="3.40" fill="#9a9a9a"/>
<rect x="1435.78" y="872.60" width="1.20" height="5.60" fill="#6e6e6e"/>
<rect x="1452.30" y="872.60" width="1.00" height="3.40" fill="#9a9a9a"/>
<rect x="1468.73" y="872.60" width="1.00" height="3.40" fill="#9a9a9a"/>
<rect x="1485.15" y="872.60" width="1.00" height="3.40" fill="#9a9a9a"/>
<rect x="1501.58" y="872.60" width="1.00" height="3.40" fill="#9a9a9a"/>
<rect x="1517.90" y="872.60" width="1.20" height="5.60" fill="#6e6e6e"/>
<rect x="196.80" y="868.95" width="3.40" height="1.30" fill="#333"/>
<rect x="197.80" y="849.08" width="2.40" height="1.10" fill="#555"/>
<rect x="197.80" y="829.10" width="2.40" height="1.10" fill="#555"/>
<rect x="197.80" y="809.13" width="2.40" height="1.10" fill="#555"/>
<rect x="196.80" y="789.05" width="3.40" height="1.30" fill="#333"/>
<rect x="197.80" y="769.18" width="2.40" height="1.10" fill="#555"/>
<rect x="197.80" y="749.20" width="2.40" height="1.10" fill="#555"/>
<rect x="197.80" y="729.23" width="2.40" height="1.10" fill="#555"/>
<rect x="196.80" y="709.15" width="3.40" height="1.30" fill="#333"/>
<rect x="197.80" y="689.28" width="2.40" height="1.10" fill="#555"/>
<rect x="197.80" y="669.30" width="2.40" height="1.10" fill="#555"/>
<rect x="197.80" y="649.33" width="2.40" height="1.10" fill="#555"/>
<rect x="196.80" y="629.25" width="3.40" height="1.30" fill="#333"/>
<rect x="197.80" y="609.38" width="2.40" height="1.10" fill="#555"/>
<rect x="197.80" y="589.40" width="2.40" height="1.10" fill="#555"/>
<rect x="197.80" y="569.43" width="2.40" height="1.10" fill="#555"/>
<rect x="196.80" y="549.35" width="3.40" height="1.30" fill="#333"/>
<rect x="197.80" y="529.48" width="2.40" height="1.10" fill="#555"/>
<rect x="197.80" y="509.50" width="2.40" height="1.10" fill="#555"/>
<rect x="197.80" y="489.53" width="2.40" height="1.10" fill="#555"/>
<rect x="196.80" y="469.45" width="3.40" height="1.30" fill="#333"/>
<rect x="197.80" y="449.57" width="2.40" height="1.10" fill="#555"/>
<rect x="197.80" y="429.60" width="2.40" height="1.10" fill="#555"/>
<rect x="197.80" y="409.62" width="2.40" height="1.10" fill="#555"/>
<rect x="196.80" y="389.55" width="3.40" height="1.30" fill="#333"/>
<rect x="197.80" y="369.68" width="2.40" height="1.10" fill="#555"/>
<rect x="197.80" y="349.70" width="2.40" height="1.10" fill="#555"/>
<rect x="197.80" y="329.73" width="2.40" height="1.10" fill="#555"/>
<rect x="196.80" y="309.65" width="3.40" height="1.30" fill="#333"/>
<rect x="197.80" y="289.77" width="2.40" height="1.10" fill="#555"/>
<rect x="197.80" y="269.80" width="2.40" height="1.10" fill="#555"/>
<rect x="197.80" y="249.82" width="2.40" height="1.10" fill="#555"/>
<rect x="196.80" y="229.75" width="3.40" height="1.30" fill="#333"/>
<rect x="197.80" y="209.87" width="2.40" height="1.10" fill="#555"/>
<rect x="197.80" y="189.90" width="2.40" height="1.10" fill="#555"/>
<rect x="197.80" y="169.93" width="2.40" height="1.10" fill="#555"/>
<rect x="196.80" y="149.85" width="3.40" height="1.30" fill="#333"/>
<rect x="197.80" y="129.97" width="2.40" height="1.10" fill="#555"/>
<rect x="197.80" y="110.00" width="2.40" height="1.10" fill="#555"/>
<rect x="197.80" y="90.03" width="2.40" height="1.10" fill="#555"/>
<rect x="196.80" y="69.95" width="3.40" height="1.30" fill="#333"/>
<rect x="200.00" y="1110.50" width="2.00" height="809.10" fill="#1c1c1c"/>
<rect x="203.00" y="1110.60" width="1.30" height="808.90" fill="#111"/>
<rect x="203.00" y="1110.60" width="1315.30" height="1.50" fill="#111"/>
<rect x="1516.80" y="1110.60" width="1.50" height="809.00" fill="#111"/>
<rect x="203.00" y="1917.70" width="1315.30" height="1.90" fill="#111"/>
<rect x="203.00" y="1922.10" width="1315.30" height="2.00" fill="#111"/>
<rect x="202.95" y="1923.00" width="1.30" height="3.80" fill="#111"/>
<rect x="246.75" y="1923.00" width="1.30" height="3.80" fill="#111"/>
<rect x="290.55" y="1923.00" width="1.30" height="3.80" fill="#111"/>
<rect x="334.35" y="1923.00" width="1.30" height="3.80" fill="#111"/>
<rect x="378.15" y="1923.00" width="1.30" height="3.80" fill="#111"/>
<rect x="421.95" y="1923.00" width="1.30" height="3.80" fill="#111"/>
<rect x="465.75" y="1923.00" width="1.30" height="3.80" fill="#111"/>
<rect x="509.55" y="1923.00" width="1.30" height="3.80" fill="#111"/>
<rect x="553.35" y="1923.00" width="1.30" height="3.80" fill="#111"/>
<rect x="597.15" y="1923.00" width="1.30" height="3.80" fill="#111"/>
<rect x="640.95" y="1923.00" width="1.30" height="3.80" fill="#111"/>
<rect x="684.75" y="1923.00" width="1.30" height="3.80" fill="#111"/>
<rect x="728.55" y="1923.00" width="1.30" height="3.80" fill="#111"/>
<rect x="772.35" y="1923.00" width="1.30" height="3.80" fill="#111"/>
<rect x="816.15" y="1923.00" width="1.30" height="3.80" fill="#111"/>
<rect x="859.95" y="1923.00" width="1.30" height="3.80" fill="#111"/>
<rect x="903.75" y="1923.00" width="1.30" height="3.80" fill="#111"/>
<rect x="947.55" y="1923.00" width="1.30" height="3.80" fill="#111"/>
<rect x="991.35" y="1923.00" width="1.30" height="3.80" fill="#111"/>
<rect x="1035.15" y="1923.00" width="1.30" height="3.80" fill="#111"/>
<rect x="1078.95" y="1923.00" width="1.30" height="3.80" fill="#111"/>
<rect x="1122.75" y="1923.00" width="1.30" height="3.80" fill="#111"/>
<rect x="1166.55" y="1923.00" width="1.30" height="3.80" fill="#111"/>
<rect x="1210.35" y="1923.00" width="1.30" height="3.80" fill="#111"/>
<rect x="1254.15" y="1923.00" width="1.30" height="3.80" fill="#111"/>
<rect x="1297.95" y="1923.00" width="1.30" height="3.80" fill="#111"/>
<rect x="1341.75" y="1923.00" width="1.30" height="3.80" fill="#111"/>
<rect x="1385.55" y="1923.00" width="1.30" height="3.80" fill="#111"/>
<rect x="1429.35" y="1923.00" width="1.30" height="3.80" fill="#111"/>
<rect x="1473.15" y="1923.00" width="1.30" height="3.80" fill="#111"/>
<rect x="1516.85" y="1923.00" width="1.30" height="3.80" fill="#111"/>
<rect x="197.80" y="1917.55" width="2.40" height="1.20" fill="#222"/>
<rect x="197.80" y="1880.88" width="2.40" height="1.20" fill="#222"/>
<rect x="196.60" y="1844.10" width="3.60" height="1.40" fill="#111"/>
<rect x="197.80" y="1807.53" width="2.40" height="1.20" fill="#222"/>
<rect x="197.80" y="1770.85" width="2.40" height="1.20" fill="#222"/>
<rect x="197.80" y="1734.17" width="2.40" height="1.20" fill="#222"/>
<rect x="196.60" y="1697.40" width="3.60" height="1.40" fill="#111"/>
<rect x="197.80" y="1660.83" width="2.40" height="1.20" fill="#222"/>
<rect x="197.80" y="1624.15" width="2.40" height="1.20" fill="#222"/>
<rect x="197.80" y="1587.47" width="2.40" height="1.20" fill="#222"/>
<rect x="196.60" y="1550.70" width="3.60" height="1.40" fill="#111"/>
<rect x="197.80" y="1514.12" width="2.40" height="1.20" fill="#222"/>
<rect x="197.80" y="1477.45" width="2.40" height="1.20" fill="#222"/>
<rect x="197.80" y="1440.78" width="2.40" height="1.20" fill="#222"/>
<rect x="196.60" y="1404.00" width="3.60" height="1.40" fill="#111"/>
<rect x="197.80" y="1367.42" width="2.40" height="1.20" fill="#222"/>
<rect x="197.80" y="1330.75" width="2.40" height="1.20" fill="#222"/>
<rect x="197.80" y="1294.07" width="2.40" height="1.20" fill="#222"/>
<rect x="196.60" y="1257.30" width="3.60" height="1.40" fill="#111"/>
<rect x="197.80" y="1220.72" width="2.40" height="1.20" fill="#222"/>
<rect x="197.80" y="1184.05" width="2.40" height="1.20" fill="#222"/>
<rect x="197.80" y="1147.38" width="2.40" height="1.20" fill="#222"/>
<rect x="196.60" y="1110.60" width="3.60" height="1.40" fill="#111"/>
<rect x="1027.2" y="722.8" width="3.0" height="7.6" fill="none" stroke="#0a0a0a" stroke-width="1.5"/>
<rect x="1057.3" y="722.8" width="2.4" height="7.6" fill="none" stroke="#0a0a0a" stroke-width="1.5"/>
<rect x="1048.90" y="1672.20" width="2.60" height="22.60" fill="#1a0e0a"/>
<rect x="855.00" y="67.50" width="2.00" height="1.00" fill="#f6d6f6"/>
<rect x="1447.00" y="67.50" width="6.00" height="1.00" fill="#f2c8f2"/>
<rect x="1458.00" y="67.50" width="6.00" height="1.00" fill="#f2c8f2"/>
<rect x="206.00" y="67.20" width="5.00" height="1.00" fill="#b0b0b0"/>
<rect x="206.50" y="1107.30" width="8.00" height="1.00" fill="#c8ccd0"/>
<rect x="821.00" y="1106.50" width="4.00" height="1.00" fill="#f8dcf8"/>
<rect x="909.00" y="1106.50" width="3.00" height="1.00" fill="#f8dcf8"/>
<rect x="1392.00" y="1106.50" width="8.00" height="1.00" fill="#f6d0f6"/>
<rect x="1422.00" y="1106.50" width="10.00" height="1.00" fill="#f6d0f6"/>
</g>
<g id="labels">
<text style="font-size:87.54px;"><tspan x="1.50" y="121.90" textLength="52.15" lengthAdjust="spacingAndGlyphs">A</tspan></text>
<text style="font-size:37.02px;"><tspan x="100.79" y="85.90" textLength="93.26" lengthAdjust="spacingAndGlyphs">1,800</tspan></text>
<text style="font-size:37.02px;"><tspan x="100.20" y="163.90" textLength="92.85" lengthAdjust="spacingAndGlyphs">1,600</tspan></text>
<text style="font-size:37.02px;"><tspan x="100.20" y="245.70" textLength="92.85" lengthAdjust="spacingAndGlyphs">1,400</tspan></text>
<text style="font-size:37.02px;"><tspan x="101.00" y="321.60" textLength="92.64" lengthAdjust="spacingAndGlyphs">1,200</tspan></text>
<text style="font-size:37.02px;"><tspan x="102.30" y="403.80" textLength="92.64" lengthAdjust="spacingAndGlyphs">1,000</tspan></text>
<text style="font-size:37.02px;"><tspan x="130.59" y="481.80" textLength="62.49" lengthAdjust="spacingAndGlyphs">800</tspan></text>
<text style="font-size:37.02px;"><tspan x="127.14" y="560.90" textLength="63.75" lengthAdjust="spacingAndGlyphs">600</tspan></text>
<text style="font-size:37.02px;"><tspan x="131.70" y="637.70" textLength="62.07" lengthAdjust="spacingAndGlyphs">400</tspan></text>
<text style="font-size:37.02px;"><tspan x="131.07" y="723.20" textLength="62.71" lengthAdjust="spacingAndGlyphs">200</tspan></text>
<text style="font-size:37.02px;"><tspan x="172.05" y="802.10" textLength="19.62" lengthAdjust="spacingAndGlyphs">0</tspan></text>
<text style="font-size:37.97px;"><tspan x="230.07" y="124.70" textLength="81.32" lengthAdjust="spacingAndGlyphs">mAU</tspan></text>
<text style="font-size:33.62px;"><tspan x="599.90" y="116.70" textLength="187.21" lengthAdjust="spacingAndGlyphs">Pyriproxyfen</tspan></text>
<text style="font-size:33.33px;fill:#000;stroke:#000;"><tspan x="1148.10" y="123.50" textLength="147.54" lengthAdjust="spacingAndGlyphs">UV_VIS_3</tspan> <tspan x="1305.30" y="123.50" textLength="134.27" lengthAdjust="spacingAndGlyphs">WVL:226</tspan> <tspan x="1448.13" y="123.50" textLength="48.06" lengthAdjust="spacingAndGlyphs" style="font-size:31.89px">nm</tspan></text>
<text style="font-size:33.33px;fill:#0028ff;stroke:#0028ff;"><tspan x="1148.10" y="166.60" textLength="147.54" lengthAdjust="spacingAndGlyphs">UV_VIS_2</tspan> <tspan x="1305.30" y="166.60" textLength="134.27" lengthAdjust="spacingAndGlyphs">WVL:232</tspan> <tspan x="1448.13" y="166.60" textLength="48.06" lengthAdjust="spacingAndGlyphs" style="font-size:31.89px">nm</tspan></text>
<text style="font-size:33.33px;fill:#eb28dc;stroke:#eb28dc;"><tspan x="1148.10" y="209.90" textLength="147.54" lengthAdjust="spacingAndGlyphs">UV_VIS_1</tspan> <tspan x="1305.30" y="209.90" textLength="134.27" lengthAdjust="spacingAndGlyphs">WVL:254</tspan> <tspan x="1448.13" y="209.90" textLength="48.06" lengthAdjust="spacingAndGlyphs" style="font-size:31.89px">nm</tspan></text>
<text style="font-size:31.89px;"><tspan x="1047.80" y="336.40" textLength="76.70" lengthAdjust="spacingAndGlyphs" style="font-style:italic;letter-spacing:0.09em">trans</tspan><tspan x="1125.89" y="336.40" textLength="181.63" lengthAdjust="spacingAndGlyphs">-permethrin</tspan></text>
<text style="font-size:31.89px;"><tspan x="1171.23" y="623.80" textLength="36.36" lengthAdjust="spacingAndGlyphs" style="font-style:italic;letter-spacing:0.03em">cis</tspan><tspan x="1209.89" y="623.80" textLength="181.22" lengthAdjust="spacingAndGlyphs">-permethrin</tspan></text>
<text style="font-size:34.06px;"><tspan x="789.10" y="713.90" textLength="61.11" lengthAdjust="spacingAndGlyphs">DCP</tspan></text>
<text style="font-size:36.6px;"><tspan x="1422.63" y="844.70" textLength="74.83" lengthAdjust="spacingAndGlyphs">min.</tspan></text>
<text style="font-size:36.45px;"><tspan x="194.28" y="923.00" textLength="22.74" lengthAdjust="spacingAndGlyphs">0</tspan></text>
<text style="font-size:36.45px;"><tspan x="359.00" y="923.00" textLength="20.27" lengthAdjust="spacingAndGlyphs">5</tspan></text>
<text style="font-size:36.45px;"><tspan x="512.55" y="923.00" textLength="41.63" lengthAdjust="spacingAndGlyphs">10</tspan></text>
<text style="font-size:36.45px;"><tspan x="678.30" y="923.00" textLength="40.53" lengthAdjust="spacingAndGlyphs">15</tspan></text>
<text style="font-size:36.45px;"><tspan x="843.49" y="923.00" textLength="40.85" lengthAdjust="spacingAndGlyphs">20</tspan></text>
<text style="font-size:36.45px;"><tspan x="999.89" y="923.00" textLength="40.74" lengthAdjust="spacingAndGlyphs">25</tspan></text>
<text style="font-size:36.45px;"><tspan x="1164.65" y="923.00" textLength="42.66" lengthAdjust="spacingAndGlyphs">30</tspan></text>
<text style="font-size:36.45px;"><tspan x="1330.89" y="923.00" textLength="40.74" lengthAdjust="spacingAndGlyphs">35</tspan></text>
<text style="font-size:36.45px;"><tspan x="1496.40" y="923.00" textLength="41.57" lengthAdjust="spacingAndGlyphs">40</tspan></text>
<text style="font-size:35.22px;"><tspan x="714.14" y="989.40" textLength="163.18" lengthAdjust="spacingAndGlyphs">Retention</tspan> <tspan x="889.20" y="989.40" textLength="75.76" lengthAdjust="spacingAndGlyphs">time</tspan> <tspan x="974.76" y="989.40" textLength="100.88" lengthAdjust="spacingAndGlyphs">(min.)</tspan></text>
<text transform="translate(70.90,0) rotate(-90)" style="font-size:38.12px;"><tspan x="-589.18" y="0.00" textLength="159.18" lengthAdjust="spacingAndGlyphs">Response</tspan> <tspan x="-418.84" y="0.00" textLength="106.96" lengthAdjust="spacingAndGlyphs">(mAU)</tspan></text>
<text style="font-size:86.09px;"><tspan x="1.94" y="1158.70" textLength="49.68" lengthAdjust="spacingAndGlyphs">B</tspan></text>
<text style="font-size:36.88px;"><tspan x="119.78" y="1126.90" textLength="62.99" lengthAdjust="spacingAndGlyphs">500</tspan></text>
<text style="font-size:36.88px;"><tspan x="126.00" y="1268.90" textLength="62.15" lengthAdjust="spacingAndGlyphs">400</tspan></text>
<text style="font-size:36.88px;"><tspan x="123.26" y="1412.60" textLength="64.03" lengthAdjust="spacingAndGlyphs">300</tspan></text>
<text style="font-size:36.88px;"><tspan x="123.53" y="1562.30" textLength="63.76" lengthAdjust="spacingAndGlyphs">200</tspan></text>
<text style="font-size:36.88px;"><tspan x="119.39" y="1706.40" textLength="61.96" lengthAdjust="spacingAndGlyphs">100</tspan></text>
<text style="font-size:36.88px;"><tspan x="157.74" y="1855.60" textLength="21.77" lengthAdjust="spacingAndGlyphs">0</tspan></text>
<text style="font-size:38.26px;"><tspan x="228.00" y="1167.80" textLength="80.91" lengthAdjust="spacingAndGlyphs">mAU</tspan></text>
<text style="font-size:33.33px;"><tspan x="703.88" y="1158.90" textLength="187.37" lengthAdjust="spacingAndGlyphs">Pyriproxyfen</tspan></text>
<text style="font-size:33.19px;"><tspan x="1062.50" y="1362.60" textLength="300.90" lengthAdjust="spacingAndGlyphs">Alpha-cypermethrin</tspan></text>
<text style="font-size:33.48px;"><tspan x="943.99" y="1678.80" textLength="60.55" lengthAdjust="spacingAndGlyphs">DCP</tspan></text>
<text style="font-size:20.75px;fill:#3a3a44;stroke:#3a3a44;stroke:none;"><tspan x="1489.36" y="1908.40" textLength="21.42" lengthAdjust="spacingAndGlyphs">min</tspan></text>
<text style="font-size:36.45px;"><tspan x="194.28" y="1966.00" textLength="22.74" lengthAdjust="spacingAndGlyphs">0</tspan></text>
<text style="font-size:36.45px;"><tspan x="416.70" y="1966.00" textLength="20.27" lengthAdjust="spacingAndGlyphs">5</tspan></text>
<text style="font-size:36.45px;"><tspan x="629.21" y="1966.00" textLength="42.28" lengthAdjust="spacingAndGlyphs">10</tspan></text>
<text style="font-size:36.45px;"><tspan x="853.24" y="1966.00" textLength="39.76" lengthAdjust="spacingAndGlyphs">15</tspan></text>
<text style="font-size:36.45px;"><tspan x="1057.59" y="1966.00" textLength="40.74" lengthAdjust="spacingAndGlyphs">20</tspan></text>
<text style="font-size:36.45px;"><tspan x="1270.68" y="1966.00" textLength="41.17" lengthAdjust="spacingAndGlyphs">25</tspan></text>
<text style="font-size:36.45px;"><tspan x="1484.65" y="1966.00" textLength="42.66" lengthAdjust="spacingAndGlyphs">30</tspan></text>
<text style="font-size:35.22px;"><tspan x="685.83" y="2039.50" textLength="163.48" lengthAdjust="spacingAndGlyphs">Retention</tspan> <tspan x="861.00" y="2039.50" textLength="75.97" lengthAdjust="spacingAndGlyphs">time</tspan> <tspan x="947.17" y="2039.50" textLength="100.47" lengthAdjust="spacingAndGlyphs">(min.)</tspan></text>
<text transform="translate(78.60,0) rotate(-90)" style="font-size:38.12px;"><tspan x="-1648.45" y="0.00" textLength="157.33" lengthAdjust="spacingAndGlyphs">Response</tspan> <tspan x="-1477.92" y="0.00" textLength="105.82" lengthAdjust="spacingAndGlyphs">(mAU)</tspan></text>
</g>
</svg>
</body></html>
